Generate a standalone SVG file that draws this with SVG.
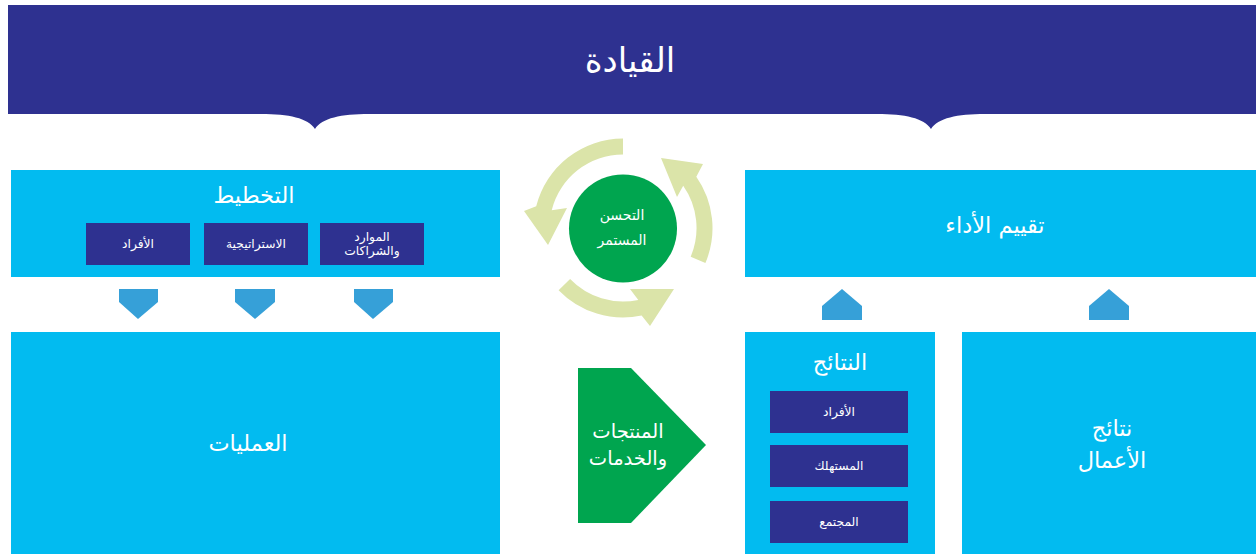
<svg xmlns="http://www.w3.org/2000/svg" width="1258" height="554" viewBox="0 0 1258 554">
<style>
text{font-family:"DejaVu Sans","Noto Sans",sans-serif;fill:#ffffff;text-anchor:middle;dominant-baseline:central}
.dark{fill:#2e3190}
.light{fill:#02bbf0}
.tri{fill:#36a0d8}
.cyc{fill:#dbe4a9}
.t32{font-size:34px}
.t22{font-size:22.5px}
.t20{font-size:19.5px}
.t15{font-size:14px}
.t12{font-size:12.3px}
</style>
<g id="leadership">
<path class="dark" d="M8,5 H1256 V114 H985 C957,114 938,118 931,129 C924,118 905,114 877,114 H369 C341,114 322,118 315,129 C308,118 289,114 261,114 H8 Z"/>
<text class="t32" x="630" y="60">القيادة</text>
</g>
<g id="planning">
<rect class="light" x="11" y="170" width="489" height="107"/>
<text class="t22" x="254" y="195">التخطيط</text>
<rect class="dark" x="86" y="223" width="104" height="42"/>
<text class="t12" x="138" y="244">الأفراد</text>
<rect class="dark" x="204" y="223" width="104" height="42"/>
<text class="t12" x="256" y="244">الاستراتيجية</text>
<rect class="dark" x="320" y="223" width="104" height="42"/>
<text class="t12" x="372" y="237">الموارد</text>
<text class="t12" x="372" y="251">والشراكات</text>
</g>
<g id="operations">
<rect class="light" x="11" y="332" width="489" height="222"/>
<text class="t22" x="248" y="443">العمليات</text>
</g>
<g id="improvement">
<circle cx="623" cy="228.5" r="54" fill="#00a54f"/>
<text class="t15" x="622" y="215">التحسن</text>
<text class="t15" x="622" y="240">المستمر</text>
</g>
<g id="products">
<polygon points="578,368 631,368 706,445 631,523 578,523" fill="#00a54f"/>
<text class="t20" x="628" y="431">المنتجات</text>
<text class="t20" x="628" y="458">والخدمات</text>
</g>
<g id="evaluation">
<rect class="light" x="745" y="170" width="511" height="107"/>
<text class="t22" x="995" y="225">تقييم الأداء</text>
</g>
<g id="results">
<rect class="light" x="745" y="332" width="190" height="222"/>
<text class="t22" x="840" y="362">النتائج</text>
<rect class="dark" x="770" y="391" width="138" height="42"/>
<text class="t12" x="839" y="412">الأفراد</text>
<rect class="dark" x="770" y="445" width="138" height="42"/>
<text class="t12" x="839" y="466">المستهلك</text>
<rect class="dark" x="770" y="501" width="138" height="42"/>
<text class="t12" x="839" y="522">المجتمع</text>
</g>
<g id="business-results">
<rect class="light" x="962" y="332" width="294" height="222"/>
<text class="t22" x="1112" y="428">نتائج</text>
<text class="t22" x="1112" y="460">الأعمال</text>
</g>
<g id="connectors">
<polygon class="tri" points="119,289 158,289 158,302 138,319 119,302"/>
<polygon class="tri" points="235,289 275,289 275,302 255,319 235,302"/>
<polygon class="tri" points="354,289 393,289 393,302 373,319 354,302"/>
<polygon class="tri" points="822,320 862,320 862,306 842,289 822,306"/>
<polygon class="tri" points="1089,320 1129,320 1129,306 1109,289 1089,306"/>
<path class="cyc" d="M623,138.5 A89.5,89.5 0 0 0 536.2,206.3 L524,211 L548,245 L567,208 L551.7,210.2 A73.5,73.5 0 0 1 623,154.5 Z"/>
<path class="cyc" d="M705.4,263 A89.5,89.5 0 0 0 696.3,176.7 L703,164 L661,158 L677,197 L683.2,185.8 A73.5,73.5 0 0 1 690.7,256.7 Z"/>
<path class="cyc" d="M558.6,290.2 A89.5,89.5 0 0 0 641.6,315.5 L650,326 L674,289 L630,289 L638.3,299.9 A73.5,73.5 0 0 1 570.1,279.1 Z"/>
</g>
</svg>
